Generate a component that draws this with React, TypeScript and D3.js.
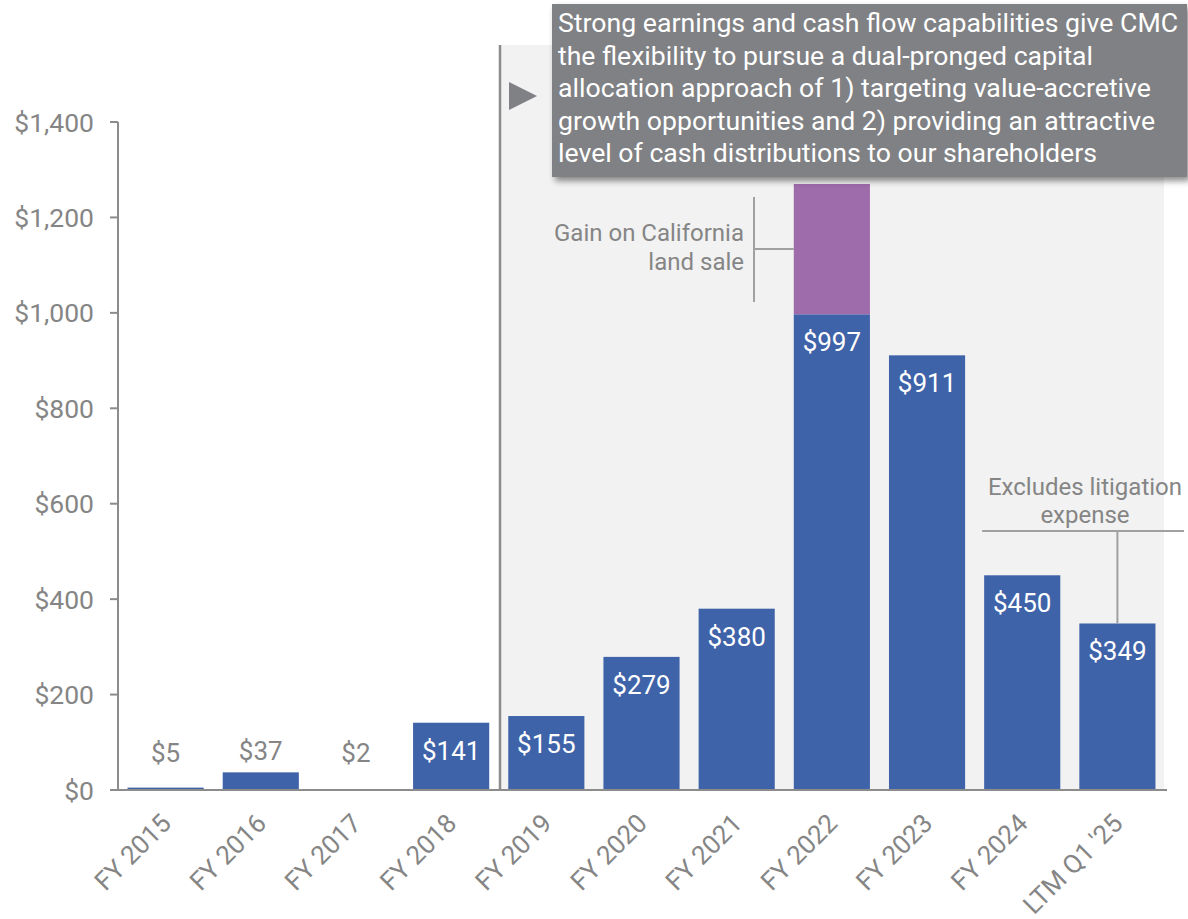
import React from "react";
import * as d3 from "d3";

const categories = ["FY 2015", "FY 2016", "FY 2017", "FY 2018", "FY 2019", "FY 2020", "FY 2021", "FY 2022", "FY 2023", "FY 2024", "LTM Q1 '25"];
const baseValues = [5, 37, 2, 141, 155, 279, 380, 997, 911, 450, 349];
const gainValues = [0, 0, 0, 0, 0, 0, 0, 273, 0, 0, 0];
const yTicks = [0, 200, 400, 600, 800, 1000, 1200, 1400];
const calloutLines = [
  "Strong earnings and cash flow capabilities give CMC",
  "the flexibility to pursue a dual-pronged capital",
  "allocation approach of 1) targeting value-accretive",
  "growth opportunities and 2) providing an attractive",
  "level of cash distributions to our shareholders",
];
const calloutWidths = [620, 535, 593, 597, 539];
const gainNote = ["Gain on California", "land sale"];
const litigationNote = ["Excludes litigation", "expense"];

const W = 1188;
const H = 919;
const BLUE = "#3F63A9";
const PURPLE = "#9E6BAB";
const GRAY_TEXT = "#858585";
const AXIS = "#8C8C8C";
const FONT = "Roboto, 'Noto Sans', sans-serif";

export default function App() {
  const x = d3.scaleBand<string>().domain(categories).range([118, 1165]).paddingInner(0.2).paddingOuter(0.1);
  const y = d3.scaleLinear().domain([0, 1400]).range([790, 122]);
  const fmt = (v: number) => "$" + d3.format(",")(v);
  const bw = x.bandwidth();
  const i22 = categories.indexOf("FY 2022");
  const iLtm = categories.length - 1;
  const x22 = x(categories[i22])!;
  const xLtmC = x(categories[iLtm])! + bw / 2;
  const x24 = x(categories[9])!;

  return (
    <svg width={W} height={H} style={{ position: "absolute", left: 0, top: 0, background: "#fff" }} fontFamily={FONT}>
      <defs>
        <filter id="shadow" x="-5%" y="-10%" width="115%" height="130%">
          <feDropShadow dx="3" dy="4" stdDeviation="3" floodColor="#000" floodOpacity="0.45" />
        </filter>
      </defs>
      {/* shaded region */}
      <rect x={500} y={45} width={1164 - 500} height={y(0) - 45} fill="#F2F2F2" />
      <line x1={500} x2={500} y1={45} y2={y(0)} stroke={AXIS} strokeWidth={2.5} />

      {/* y axis */}
      <line x1={118} x2={118} y1={y(1400)} y2={y(0)} stroke={AXIS} strokeWidth={2} />
      {yTicks.map((t) => (
        <g key={t}>
          <line x1={110} x2={118} y1={y(t)} y2={y(t)} stroke={AXIS} strokeWidth={2} />
          <text x={94} y={y(t)} dy="0.36em" textAnchor="end" fontSize={26.5} fill={GRAY_TEXT}>
            {fmt(t)}
          </text>
        </g>
      ))}

      {/* bars */}
      {categories.map((c, i) => (
        <g key={c}>
          <rect x={x(c)!} y={y(baseValues[i])} width={bw} height={y(0) - y(baseValues[i])} fill={BLUE} />
          {gainValues[i] > 0 && (
            <rect
              x={x(c)!}
              y={y(baseValues[i] + gainValues[i])}
              width={bw}
              height={y(baseValues[i]) - y(baseValues[i] + gainValues[i])}
              fill={PURPLE}
            />
          )}
          {baseValues[i] > 100 ? (
            <text x={x(c)! + bw / 2} y={y(baseValues[i]) + 37} textAnchor="middle" fontSize={26} fill="#fff">
              {fmt(baseValues[i])}
            </text>
          ) : (
            <text
              x={x(c)! + bw / 2}
              y={Math.min(y(baseValues[i]) - 12, y(0) - 28)}
              textAnchor="middle"
              fontSize={26}
              fill={GRAY_TEXT}
            >
              {fmt(baseValues[i])}
            </text>
          )}
        </g>
      ))}

      {/* x axis */}
      <line x1={118} x2={1167} y1={y(0)} y2={y(0)} stroke={AXIS} strokeWidth={2} />
      {categories.map((c) => {
        const ax = x(c)! + bw / 2 + 7;
        const ay = 825;
        return (
          <text key={c} x={ax} y={ay} textAnchor="end" fontSize={26} fill={GRAY_TEXT} transform={`rotate(-45 ${ax} ${ay})`}>
            {c}
          </text>
        );
      })}

      {/* gain annotation */}
      <line x1={754} x2={754} y1={197} y2={302} stroke="#A0A0A0" strokeWidth={2} />
      <line x1={754} x2={x22} y1={249} y2={249} stroke="#A0A0A0" strokeWidth={2} />
      {gainNote.map((t, k) => (
        <text key={t} x={744} y={241 + k * 29} textAnchor="end" fontSize={24} fill={GRAY_TEXT}>
          {t}
        </text>
      ))}

      {/* litigation annotation */}
      <line x1={x24 - 2} x2={1184} y1={531} y2={531} stroke="#A0A0A0" strokeWidth={2} />
      <line x1={xLtmC} x2={xLtmC} y1={531} y2={y(baseValues[iLtm])} stroke="#A0A0A0" strokeWidth={2} />
      {litigationNote.map((t, k) => (
        <text key={t} x={1085} y={495 + k * 28} textAnchor="middle" fontSize={24} fill={GRAY_TEXT}>
          {t}
        </text>
      ))}

      {/* callout */}
      <path d="M509,82 L537,96 L509,110 Z" fill="#808184" />
      <rect x={552} y={4} width={1187 - 552} height={173} fill="#808184" filter="url(#shadow)" />
      {calloutLines.map((t, k) => (
        <text
          key={k}
          x={558}
          y={32 + k * 32.5}
          fontSize={26}
          fill="#fff"
          textLength={calloutWidths[k]}
          lengthAdjust="spacingAndGlyphs"
        >
          {t}
        </text>
      ))}
    </svg>
  );
}
